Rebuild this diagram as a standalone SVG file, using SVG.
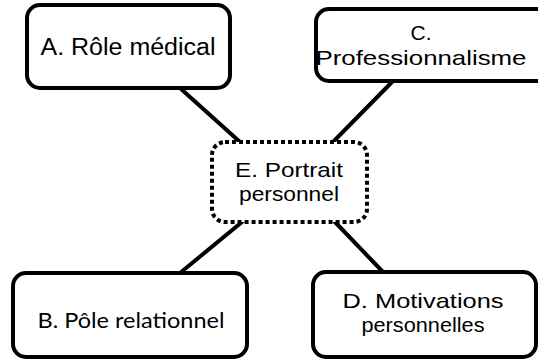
<svg xmlns="http://www.w3.org/2000/svg" width="538" height="360" viewBox="0 0 538 360">
<style>
.box{fill:#fff;stroke:#000;stroke-width:4}
.dot{fill:#fff;stroke:#000;stroke-width:4;stroke-dasharray:4 3}
.t{font-family:"Liberation Sans",Arial,sans-serif;font-size:23px;fill:#000;text-anchor:middle}
.t2{font-family:"Liberation Sans",Arial,sans-serif;font-size:21px;fill:#000;text-anchor:middle}
.tb{font-family:Lato,"Liberation Sans",sans-serif;font-size:21px;fill:#000;text-anchor:middle}
.ln{stroke:#000;stroke-width:4;stroke-linecap:round}
</style>
<rect width="538" height="360" fill="#fff"/>
<g id="connectors">
<line class="ln" x1="180" y1="88" x2="240" y2="142"/>
<line class="ln" x1="392" y1="82" x2="333" y2="142"/>
<line class="ln" x1="242" y1="222" x2="180" y2="273"/>
<line class="ln" x1="335" y1="222" x2="383" y2="272"/>
</g>
<g id="nodeA">
<rect class="box" x="27" y="5" width="203" height="83" rx="13"/>
<text class="t" x="128" y="55" textLength="175" lengthAdjust="spacingAndGlyphs">A. Rôle médical</text>
</g>
<g id="nodeC">
<rect class="box" x="316" y="9" width="240" height="72" rx="13"/>
<text class="t2" x="421" y="40">C.</text>
<text class="t2" x="421" y="65" textLength="211" lengthAdjust="spacingAndGlyphs">Professionnalisme</text>
</g>
<g id="nodeE">
<rect class="dot" x="212" y="142" width="155" height="80" rx="13"/>
<text class="t2" x="289" y="177" textLength="108" lengthAdjust="spacingAndGlyphs">E. Portrait</text>
<text class="t2" x="289" y="201" textLength="100" lengthAdjust="spacingAndGlyphs">personnel</text>
</g>
<g id="nodeB">
<rect class="box" x="13" y="273" width="234" height="84" rx="13"/>
<text class="tb" x="131" y="328" textLength="187" lengthAdjust="spacingAndGlyphs">B. Pôle relationnel</text>
</g>
<g id="nodeD">
<rect class="box" x="313" y="272" width="223" height="85" rx="13"/>
<text class="t2" x="423" y="308" textLength="161" lengthAdjust="spacingAndGlyphs">D. Motivations</text>
<text class="t2" x="423" y="332" textLength="123" lengthAdjust="spacingAndGlyphs">personnelles</text>
</g>
</svg>
